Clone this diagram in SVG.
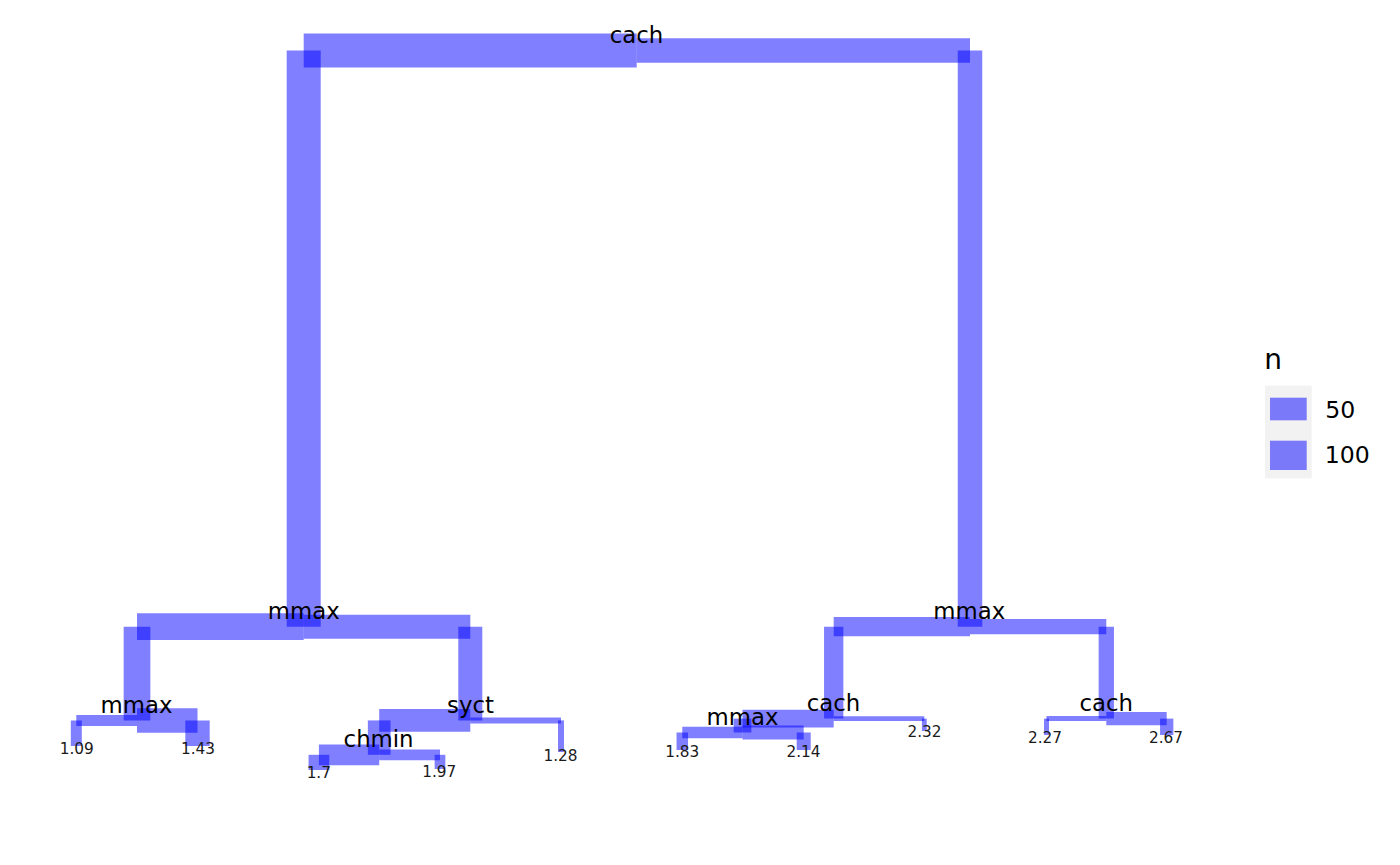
<svg xmlns="http://www.w3.org/2000/svg" width="1400" height="865" viewBox="0 0 1400 865">
<style>
.e{stroke:#0000FF;stroke-opacity:0.5;fill:none;stroke-linecap:butt}
.lbl{font-family:"DejaVu Sans","Liberation Sans",sans-serif;font-size:22.8px;text-anchor:middle;fill:#000}
.leaf{font-family:"DejaVu Sans","Liberation Sans",sans-serif;font-size:15.3px;text-anchor:middle;fill:#1A1A1A}
.lt{font-family:"DejaVu Sans","Liberation Sans",sans-serif;font-size:23.6px;fill:#000}
.ltitle{font-family:"DejaVu Sans","Liberation Sans",sans-serif;font-size:28px;fill:#000}
.keybg{fill:#F2F2F2}
.key{fill:#0000FF;fill-opacity:0.5}
</style>
<rect width="1400" height="865" fill="#FFFFFF"/>
<g id="connectors">
<line class="e" x1="636.7" y1="50.4" x2="303.7" y2="50.4" stroke-width="34"/>
<line class="e" x1="303.7" y1="50.4" x2="303.7" y2="626.7" stroke-width="34"/>
<line class="e" x1="636.7" y1="50.4" x2="970" y2="50.4" stroke-width="24.5"/>
<line class="e" x1="970" y1="50.4" x2="970" y2="626.7" stroke-width="24.5"/>
<line class="e" x1="303.7" y1="626.7" x2="137" y2="626.7" stroke-width="26.7"/>
<line class="e" x1="137" y1="626.7" x2="137" y2="720.5" stroke-width="26.7"/>
<line class="e" x1="303.7" y1="626.7" x2="470.3" y2="626.7" stroke-width="24"/>
<line class="e" x1="470.3" y1="626.7" x2="470.3" y2="720.4" stroke-width="24"/>
<line class="e" x1="137" y1="720.5" x2="76.3" y2="720.5" stroke-width="11"/>
<line class="e" x1="76.3" y1="720.5" x2="76.3" y2="746" stroke-width="11"/>
<line class="e" x1="137" y1="720.5" x2="197.5" y2="720.5" stroke-width="24.4"/>
<line class="e" x1="197.5" y1="720.5" x2="197.5" y2="746" stroke-width="24.4"/>
<line class="e" x1="470.3" y1="720.4" x2="379.2" y2="720.4" stroke-width="22.7"/>
<line class="e" x1="379.2" y1="720.4" x2="379.2" y2="754.8" stroke-width="22.7"/>
<line class="e" x1="470.3" y1="720.4" x2="561" y2="720.4" stroke-width="6"/>
<line class="e" x1="561" y1="720.4" x2="561" y2="752" stroke-width="6"/>
<line class="e" x1="379.2" y1="754.8" x2="318.9" y2="754.8" stroke-width="20.7"/>
<line class="e" x1="318.9" y1="754.8" x2="318.9" y2="770" stroke-width="20.7"/>
<line class="e" x1="379.2" y1="754.8" x2="440" y2="754.8" stroke-width="10.7"/>
<line class="e" x1="440" y1="754.8" x2="440" y2="769" stroke-width="10.7"/>
<line class="e" x1="970" y1="626.7" x2="833.7" y2="626.7" stroke-width="19.3"/>
<line class="e" x1="833.7" y1="626.7" x2="833.7" y2="718.6" stroke-width="19.3"/>
<line class="e" x1="970" y1="626.7" x2="1106.3" y2="626.7" stroke-width="15.3"/>
<line class="e" x1="1106.3" y1="626.7" x2="1106.3" y2="718.6" stroke-width="15.3"/>
<line class="e" x1="833.7" y1="718.6" x2="742.5" y2="718.6" stroke-width="17.7"/>
<line class="e" x1="742.5" y1="718.6" x2="742.5" y2="732.5" stroke-width="17.7"/>
<line class="e" x1="833.7" y1="718.6" x2="924.3" y2="718.6" stroke-width="4.8"/>
<line class="e" x1="924.3" y1="718.6" x2="924.3" y2="731" stroke-width="4.8"/>
<line class="e" x1="742.5" y1="732.5" x2="682.3" y2="732.5" stroke-width="11.5"/>
<line class="e" x1="682.3" y1="732.5" x2="682.3" y2="750" stroke-width="11.5"/>
<line class="e" x1="742.5" y1="732.5" x2="803.7" y2="732.5" stroke-width="14"/>
<line class="e" x1="803.7" y1="732.5" x2="803.7" y2="750" stroke-width="14"/>
<line class="e" x1="1106.3" y1="718.6" x2="1046.5" y2="718.6" stroke-width="5"/>
<line class="e" x1="1046.5" y1="718.6" x2="1046.5" y2="735" stroke-width="5"/>
<line class="e" x1="1106.3" y1="718.6" x2="1166.7" y2="718.6" stroke-width="13.3"/>
<line class="e" x1="1166.7" y1="718.6" x2="1166.7" y2="735" stroke-width="13.3"/>
</g>
<g id="node-root"><text class="lbl" x="636.5" y="43.3">cach</text></g>
<g id="node-L1"><text class="lbl" x="303.8" y="619">mmax</text></g>
<g id="node-R1"><text class="lbl" x="969.3" y="619">mmax</text></g>
<g id="node-L2"><text class="lbl" x="136.5" y="713.3">mmax</text></g>
<g id="node-syct"><text class="lbl" x="470.5" y="712.5">syct</text></g>
<g id="node-chmin"><text class="lbl" x="378.6" y="746.8">chmin</text></g>
<g id="node-cach1"><text class="lbl" x="833.4" y="710.5">cach</text></g>
<g id="node-mmax3"><text class="lbl" x="742.5" y="725">mmax</text></g>
<g id="node-cach2"><text class="lbl" x="1106.2" y="710.5">cach</text></g>
<g id="leaf-109"><text class="leaf" x="76.8" y="754">1.09</text></g>
<g id="leaf-143"><text class="leaf" x="198" y="754">1.43</text></g>
<g id="leaf-17"><text class="leaf" x="318.8" y="778.3">1.7</text></g>
<g id="leaf-197"><text class="leaf" x="439.3" y="777">1.97</text></g>
<g id="leaf-128"><text class="leaf" x="560.5" y="760.7">1.28</text></g>
<g id="leaf-183"><text class="leaf" x="682.3" y="756.7">1.83</text></g>
<g id="leaf-214"><text class="leaf" x="803.5" y="756.7">2.14</text></g>
<g id="leaf-232"><text class="leaf" x="924.5" y="737.3">2.32</text></g>
<g id="leaf-227"><text class="leaf" x="1045" y="743.3">2.27</text></g>
<g id="leaf-267"><text class="leaf" x="1166" y="743.3">2.67</text></g>
<g id="legend">
<text class="ltitle" x="1264.3" y="369.3">n</text>
<rect class="keybg" x="1265" y="385.7" width="46.7" height="46.3"/>
<rect class="keybg" x="1265" y="432" width="46.7" height="46.3"/>
<rect class="key" x="1270" y="397.7" width="36.7" height="22.6"/>
<rect class="key" x="1270" y="440.7" width="36.7" height="29.3"/>
<text class="lt" x="1325.3" y="418.3">50</text>
<text class="lt" x="1324.8" y="463.3">100</text>
</g>
</svg>
